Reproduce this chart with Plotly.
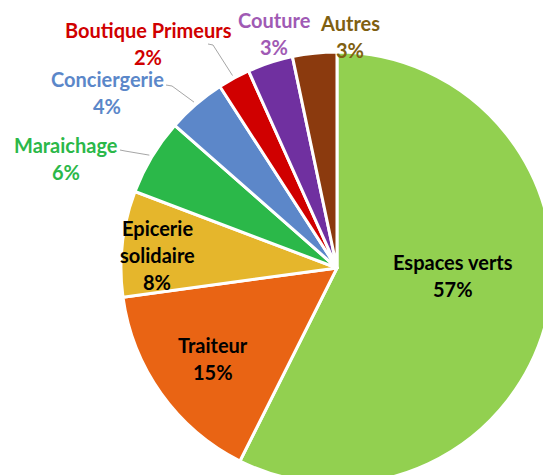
import math
import plotly.graph_objects as go

# ---- data ----
categories = ["Espaces verts", "Traiteur", "Epicerie solidaire", "Maraichage",
              "Conciergerie", "Boutique Primeurs", "Couture", "Autres"]
values = [57.3, 15.4, 7.9, 5.7, 4.4, 2.4, 3.4, 3.3]
label_lines = [["Espaces verts"], ["Traiteur"], ["Epicerie", "solidaire"], ["Maraichage"],
               ["Conciergerie"], ["Boutique Primeurs"], ["Couture"], ["Autres"]]

# ---- style / layout ----
slice_colors = ["#92D050", "#E96414", "#E5B62C", "#2BB849",
                "#5C87C9", "#D00000", "#7030A0", "#8B3A0E"]
text_colors = ["#000000", "#000000", "#000000", "#2BB849",
               "#5B87C9", "#D00000", "#A05AB4", "#7F6011"]
# label anchor (center x, first-line center y) in page pixels
label_pos = [(453, 262), (213, 345), (157, 228), (66, 145),
             (107, 79), (148, 30), (274, 20), (350, 23)]
# leader-line end points (px) for labels that have one (None = no leader)
leader_end = [None, None, None, ((125, 151), (120, 150)),
              ((172, 86), (166, 85)), ((213, 45), (208, 44)), None, None]

W, H = 600, 560
CX, CY, R = 337, 268, 216
LINE_GAP = 27
FONT = "Lato"
FSIZE = 20

def px2paper(x, y):
    return x / W, 1 - y / H

fig = go.Figure(go.Pie(
    labels=categories, values=values, sort=False, direction="clockwise",
    rotation=0, textinfo="none", hoverinfo="label+percent",
    marker=dict(colors=slice_colors, line=dict(color="white", width=3)),
    domain=dict(x=[(CX - R) / W, (CX + R) / W],
                y=[(H - CY - R) / H, (H - CY + R) / H]),
    showlegend=False,
))

total = sum(values)
annotations = []
shapes = []
cum = 0.0
for i, (cat, v) in enumerate(zip(categories, values)):
    pct = round(100 * v / total)
    lines = label_lines[i] + [f"{pct}%"]
    lx, ly = label_pos[i]
    for j, t in enumerate(lines):
        x, y = px2paper(lx, ly + j * LINE_GAP)
        annotations.append(dict(
            x=x, y=y, xref="paper", yref="paper", text=f"<b>{t}</b>",
            showarrow=False, xanchor="center", yanchor="middle",
            font=dict(family=FONT, size=FSIZE, color=text_colors[i])))
    mid = (cum + v / 2) / total * 2 * math.pi
    cum += v
    if leader_end[i] is not None:
        ax = CX + (R + 3) * math.sin(mid)
        ay = CY - (R + 3) * math.cos(mid)
        (ex, ey), (fx, fy) = leader_end[i]
        p = [px2paper(ax, ay), px2paper(ex, ey), px2paper(fx, fy)]
        path = "M {} {} L {} {} L {} {}".format(p[0][0], p[0][1], p[1][0], p[1][1], p[2][0], p[2][1])
        shapes.append(dict(type="path", xref="paper", yref="paper", path=path,
                           line=dict(color="#A6A6A6", width=1)))

fig.update_layout(
    width=W, height=H, margin=dict(l=0, r=0, t=0, b=0),
    paper_bgcolor="white", plot_bgcolor="white",
    annotations=annotations, shapes=shapes,
)

fig.write_html("out.html",
               post_script="document.body.style.margin='0';document.body.style.overflow='hidden';")
